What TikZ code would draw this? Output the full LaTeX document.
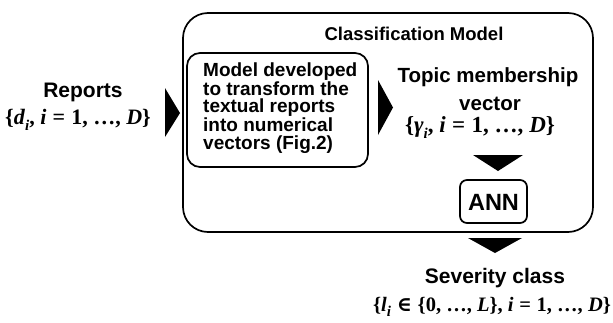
\documentclass[tikz,border=0pt]{standalone}
\usepackage{fontspec}
\setmainfont{Liberation Sans}
\newfontfamily\mfont{Liberation Serif}
\newfontfamily\opfont{DejaVu Serif}
\newcommand{\vi}[1]{\textit{#1}}
\newcommand{\sbi}[1]{\raisebox{-0.28em}{\fontsize{15}{15}\selectfont\textit{#1}}}
\newcommand{\msp}{\hspace{0.28em}}
\tikzset{
  lbl/.style={font=\fontsize{#1}{17.5}\selectfont\bfseries, inner sep=0pt},
  lbl/.default=19,
  mth/.style={font=\fontsize{#1}{22}\selectfont\mfont\bfseries, inner sep=0pt},
  mth/.default=21,
  box/.style={draw, line width=1.7pt, inner sep=0pt},
  tri/.style={fill=black}
}
\begin{document}
\begin{tikzpicture}[x=1pt,y=-1pt]
\useasboundingbox (0,0) rectangle (613,322);
% boxes
\node[box, rounded corners=25pt, minimum width=410pt, minimum height=219pt] (outer) at (388,122.5) {};
\node[box, rounded corners=13pt, minimum width=181pt, minimum height=114pt] (inner) at (277.5,110) {};
\node[box, rounded corners=7pt, minimum width=67pt, minimum height=43pt] (ann) at (493.5,201.5) {};
% texts
\node[lbl=21, anchor=base] (rep) at (83,97) {Reports};
\node[mth=22, anchor=base] (repm) at (78,124) {\{\vi{d}\sbi{i}, \vi{i}\msp=\msp1, \ldots, \vi{D}\}};
\node[lbl=18.5, anchor=base] (title) at (414,40) {Classification Model};
\node[lbl=19, anchor=west, align=left] (mtxt) at (203,108) {Model developed\\to transform the\\textual reports\\into numerical\\vectors (Fig.2)};
\node[lbl=20.5, anchor=base] (topic) at (488,82) {Topic membership};
\node[lbl=20.5, anchor=base] (vec) at (490,110) {vector};
\node[mth=23, anchor=base] (vecm) at (480,132) {\{\vi{γ}\sbi{i}, \vi{i}\msp=\msp1, \ldots, \vi{D}\}};
\node[lbl=23.5, anchor=base] at (ann.center) [yshift=-8.5pt] (anntxt) {ANN};
\node[lbl=21, anchor=base] (sev) at (495,283) {Severity class};
\node[mth=20.5, anchor=base] (sevm) at (492,311) {\{\vi{l}\sbi{i}\msp{\opfont\bfseries ∈}\msp\{0, \ldots, \vi{L}\}, \vi{i}\msp=\msp1, \ldots, \vi{D}\}};
% arrows (filled triangles)
\fill[tri] (165,88) -- (180,113) -- (165,137) -- cycle;
\fill[tri] (378,80) -- (393,107.5) -- (378,135) -- cycle;
\fill[tri] (473,155) -- (523,155) -- (498,171) -- cycle;
\fill[tri] (468,238) -- (522,238) -- (495,253) -- cycle;
\end{tikzpicture}
\end{document}
